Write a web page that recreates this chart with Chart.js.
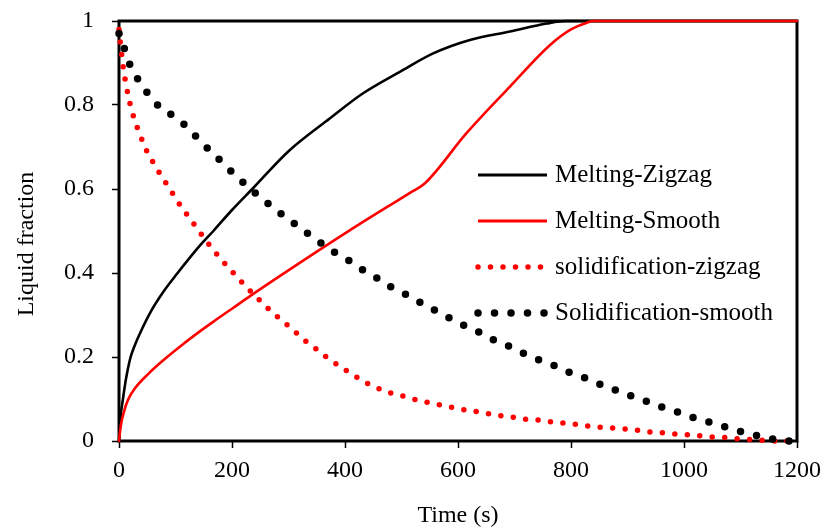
<!DOCTYPE html>
<html>
<head>
<meta charset="utf-8">
<script src="https://cdn.jsdelivr.net/npm/chart.js@4.4.1/dist/chart.umd.min.js"></script>
<style>
  html, body { margin: 0; padding: 0; background: #fff; }
  #wrap { width: 823px; height: 530px; }
</style>
</head>
<body>
<div id="wrap"><canvas id="chart" width="823" height="530"></canvas></div>
<script>
const FONT = '"Liberation Serif", "Times New Roman", serif';

// Axis ticks
const timeTicks = [0, 200, 400, 600, 800, 1000, 1200];
const fractionTicks = [0, 0.2, 0.4, 0.6, 0.8, 1];

// Melting, zigzag fins
const meltZigzagTime = [0, 3, 7, 12, 20, 28, 37, 58, 81, 102, 143, 167, 200, 238, 300, 373, 432, 497, 556, 621, 692, 757, 790, 900, 1000, 1100, 1200];
const meltZigzagFrac = [0, 0.06, 0.1, 0.145, 0.197, 0.228, 0.256, 0.312, 0.36, 0.397, 0.465, 0.5, 0.55, 0.603, 0.69, 0.768, 0.828, 0.879, 0.923, 0.955, 0.975, 0.994, 1, 1, 1, 1, 1];

// Melting, smooth fins
const meltSmoothTime = [0, 3, 8, 16, 28, 52, 80, 111, 140, 170, 200, 232, 338, 409, 515, 541, 615, 692, 763, 800, 828, 840, 900, 1000, 1100, 1200];
const meltSmoothFrac = [0, 0.035, 0.066, 0.098, 0.125, 0.16, 0.194, 0.228, 0.258, 0.287, 0.315, 0.345, 0.44, 0.502, 0.591, 0.613, 0.733, 0.844, 0.943, 0.98, 0.996, 1, 1, 1, 1, 1];

// Solidification, zigzag fins
const solidZigzagTime = [0, 3, 8, 13, 20, 27, 34, 42, 51, 62, 73, 85, 97, 109, 122, 135, 148, 161, 175, 189,
  204, 219, 234, 250, 266, 282, 300, 316, 332, 350, 367, 385, 403, 422, 441, 461, 481, 502, 524, 546,
  567, 589, 609, 632, 654, 676, 697, 719, 740, 763, 785, 806, 828, 850, 872, 893, 915, 937, 959, 980,
  1002, 1024, 1046, 1068, 1090, 1112, 1134, 1157, 1200];
const solidZigzagFrac = [0.98, 0.94, 0.885, 0.845, 0.8, 0.767, 0.74, 0.713, 0.685, 0.66, 0.635, 0.61, 0.585, 0.56, 0.536, 0.512, 0.488, 0.465, 0.442, 0.42,
  0.398, 0.376, 0.355, 0.334, 0.313, 0.294, 0.274, 0.255, 0.236, 0.218, 0.2, 0.183, 0.167, 0.151, 0.136, 0.124, 0.114, 0.107, 0.099, 0.092,
  0.086, 0.08, 0.075, 0.07, 0.065, 0.06, 0.057, 0.052, 0.05, 0.046, 0.043, 0.04, 0.036, 0.033, 0.031, 0.029, 0.026, 0.022, 0.02, 0.017,
  0.015, 0.013, 0.01, 0.009, 0.006, 0.004, 0.002, 0, 0];

// Solidification, smooth fins
const solidSmoothTime = [0, 5, 11, 22, 36, 53, 73, 96, 119, 139, 159, 180, 201, 222, 244, 266, 289, 312, 335, 359,
  383, 408, 432, 458, 481, 508, 533, 558, 583, 609, 636, 661, 688, 714, 740, 768, 794, 821, 848, 875,
  903, 929, 956, 985, 1011, 1039, 1067, 1094, 1122, 1150, 1179, 1200];
const solidSmoothFrac = [0.97, 0.963, 0.925, 0.889, 0.856, 0.824, 0.794, 0.774, 0.749, 0.721, 0.694, 0.667, 0.639, 0.613, 0.587, 0.563, 0.539, 0.516, 0.493, 0.47,
  0.448, 0.429, 0.407, 0.387, 0.367, 0.349, 0.33, 0.312, 0.294, 0.276, 0.26, 0.242, 0.227, 0.21, 0.195, 0.181, 0.165, 0.152, 0.137, 0.123,
  0.109, 0.097, 0.083, 0.071, 0.058, 0.047, 0.036, 0.025, 0.015, 0.007, 0, 0];

const toPoints = (xs, ys) => xs.map((x, i) => ({ x, y: ys[i] }));

const datasets = [
  { label: 'Melting-Zigzag', data: toPoints(meltZigzagTime, meltZigzagFrac),
    borderColor: '#000000', borderWidth: 2.6, borderDash: [], order: 4 },
  { label: 'Melting-Smooth', data: toPoints(meltSmoothTime, meltSmoothFrac),
    borderColor: '#ff0000', borderWidth: 2.6, borderDash: [], order: 3 },
  { label: 'solidification-zigzag', data: toPoints(solidZigzagTime, solidZigzagFrac),
    borderColor: '#ff0000', borderWidth: 5.5, borderDash: [0, 12.5], order: 2 },
  { label: 'Solidification-smooth', data: toPoints(solidSmoothTime, solidSmoothFrac),
    borderColor: '#000000', borderWidth: 7.5, borderDash: [0, 16.5], order: 1 },
];
datasets.forEach(d => {
  d.pointRadius = 0;
  d.borderCapStyle = 'round';
  d.cubicInterpolationMode = 'monotone';
  d.fill = false;
  d.clip = false;
});

// thick box round the plot area, under the curves
const frame = {
  id: 'frame',
  beforeDatasetsDraw(chart) {
    const { ctx, chartArea: a } = chart;
    ctx.save();
    ctx.strokeStyle = '#000';
    ctx.lineWidth = 3;
    ctx.strokeRect(a.left, a.top, a.right - a.left, a.bottom - a.top);
    ctx.restore();
  }
};

// y axis title, a little below the middle of the axis
const yTitle = {
  id: 'yTitle',
  afterDraw(chart) {
    const { ctx, chartArea: a } = chart;
    ctx.save();
    ctx.translate(27, (a.top + a.bottom) / 2 + 13);
    ctx.rotate(-Math.PI / 2);
    ctx.fillStyle = '#000';
    ctx.font = '24px ' + FONT;
    ctx.textAlign = 'center';
    ctx.textBaseline = 'middle';
    ctx.fillText('Liquid fraction', 0, 0);
    ctx.restore();
  }
};

// legend drawn inside the plot with the series' own line styles
const lineLegend = {
  id: 'lineLegend',
  afterDatasetsDraw(chart) {
    const { ctx } = chart;
    const x0 = 478, x1 = 547, textX = 555;
    let y = 175;
    ctx.save();
    chart.data.datasets.forEach(d => {
      ctx.beginPath();
      ctx.strokeStyle = d.borderColor;
      ctx.lineWidth = d.borderDash.length ? d.borderWidth : 3;
      ctx.lineCap = d.borderDash.length ? 'round' : 'butt';
      ctx.setLineDash(d.borderDash);
      ctx.moveTo(x0, y);
      ctx.lineTo(x1, y);
      ctx.stroke();
      ctx.setLineDash([]);
      ctx.fillStyle = '#000';
      ctx.font = '25px ' + FONT;
      ctx.textBaseline = 'middle';
      ctx.textAlign = 'left';
      ctx.fillText(d.label, textX, y);
      y += 46;
    });
    ctx.restore();
  }
};

new Chart(document.getElementById('chart'), {
  type: 'line',
  data: { datasets },
  plugins: [frame, lineLegend, yTitle],
  options: {
    responsive: false,
    devicePixelRatio: 1,
    animation: false,
    layout: { padding: { left: 0, top: 21, right: 26, bottom: 0 } },
    plugins: { legend: { display: false }, tooltip: { enabled: false } },
    scales: {
      x: {
        type: 'linear',
        min: 0,
        max: 1200,
        afterBuildTicks: s => { s.ticks = timeTicks.map(v => ({ value: v })); },
        afterFit: s => { s.height = 89; s.paddingLeft = 0; s.paddingRight = 0; },
        border: { display: false },
        grid: { drawOnChartArea: false, drawTicks: true, tickLength: 7, tickWidth: 1.5, tickColor: '#000' },
        ticks: { color: '#000', padding: 8, maxRotation: 0, font: { family: FONT, size: 24 },
          callback: v => String(v) },
        title: { display: true, text: 'Time (s)', color: '#000', padding: 0, font: { family: FONT, size: 24 } }
      },
      y: {
        min: 0,
        max: 1,
        afterBuildTicks: s => { s.ticks = fractionTicks.map(v => ({ value: v })); },
        afterFit: s => { s.width = 119; s.paddingTop = 0; s.paddingBottom = 0; },
        border: { display: false },
        grid: { drawOnChartArea: false, drawTicks: true, tickLength: 7, tickWidth: 1.5, tickColor: '#000' },
        ticks: { color: '#000', padding: 18, font: { family: FONT, size: 24 },
          callback: v => String(Math.round(v * 10) / 10) }
      }
    }
  }
});
</script>
</body>
</html>
